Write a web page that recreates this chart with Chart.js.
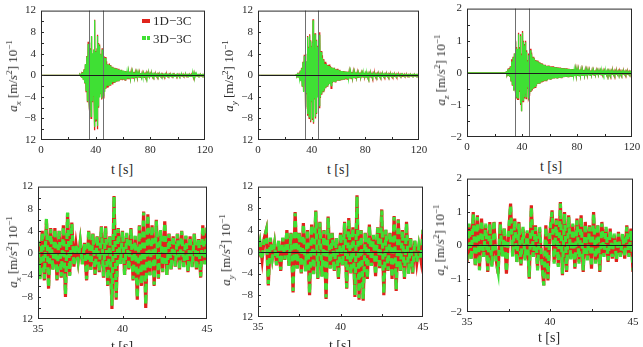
<!DOCTYPE html>
<html>
<head>
<meta charset="utf-8">
<script src="https://cdn.jsdelivr.net/npm/chart.js@4.4.1/dist/chart.umd.min.js"></script>
<style>
  html, body { margin: 0; padding: 0; background: #fff; }
  #fig { position: relative; width: 643px; height: 347px; overflow: hidden;
         font-family: "Liberation Serif", "DejaVu Serif", serif; color: #2a2a2a; }
  #fig canvas { position: absolute; }
  .ylab { position: absolute; white-space: nowrap; font-size: 13px;
          transform: translate(-50%, -50%) rotate(-90deg); }
  .xlab { position: absolute; white-space: nowrap; font-size: 14px;
          transform: translate(-50%, -50%); }
  .leg { position: absolute; white-space: nowrap; font-size: 13px; transform: translateY(-50%); }
  .sw { position: absolute; }
  sub, sup { font-size: 9px; line-height: 0; }
</style>
</head>
<body>
<div id="fig"></div>
<script>
// sampling grids (seconds)
const tQuiet = [0, 27.5];
const quiet = [0, 0];
const preStart = 28, preStep = 0.5;
const zoomStart = 35, zoomStep = 0.125;
const postStart = 45.5, postStep = 0.5;

// tick values and their printed labels
const xTicksFull = [0, 40, 80, 120];
const xTicksZoom = [35, 40, 45];
const yTicksXY = [-12, -8, -4, 0, 4, 8, 12];
const yLabelsXY = ["12", "−8", "−4", "0", "4", "8", "12"];
const yTicksZ = [-2, -1, 0, 1, 2];
const yLabelsZ = ["−2", "−1", "0", "1", "2"];
const xMarksFull = [20, 40, 60, 80, 100];
const xMarksZoom = [37.5, 40, 42.5];
const yMarksXY = [-10, -8, -6, -4, -2, 0, 2, 4, 6, 8, 10];
const yMarksZ = [-1.5, -1, -0.5, 0, 0.5, 1, 1.5];
const windowLines = [35, 45];

// ---- a_x ----
const ax1D_pre = [0, 0.1, -0.1, 0.3, -0.4, 0.6, -0.8, 1.1, -1.5, 2.0, -3.0, 3.6, -5.0, 6.2];
const ax3D_pre = [0, 0.1, -0.1, 0.2, -0.4, 0.5, -0.8, 1.0, -1.4, 2.1, -2.8, 3.5, -4.8, 5.8];
const ax1D_zoom = [2,-4.5,4,-5,6,-6.5,4.5,-3,4.5,-5, 4,-4.5,5,-8,7.2,-4,5.5,-2.5,1.5,-1.5,
  2,-2,1.8,-5,4,-3,3.5,-4,3,-3.5, 4.8,-4.5,4.8,-6,3,-10.2,10.3,-8.5,4.5,-2,
  4,-4,3.5,-3,4.5,-5,3,-8.5,5,-6, 7.5,-10,7,-4,5,-6,6,-4.7,4,-3.5,
  5.7,-4,3.5,-3,3,-2.5,3.5,-3,4,-2.5, 3,-3.5,3,-2.5,3.5,-3,2.5,-4.5,5,-2, 4.5];
const ax3D_zoom = [2.2,-4.8,3.8,-4.7,6.2,-6.3,4.3,-3.2,4.4,-4.8, 4.2,-4.3,4.8,-7.6,7.3,-4.2,5.3,-2.4,1.6,-1.4,
  1.9,-2.1,1.7,-4.8,4.1,-3.1,3.4,-3.8,3.1,-3.4, 4.7,-4.3,4.6,-5.8,3.1,-9.6,10.2,-8.1,4.3,-2.1,
  3.9,-4.1,3.6,-3.1,4.4,-4.8,3.1,-8.2,4.8,-5.8, 7.3,-9.4,6.9,-4.1,4.9,-5.8,5.8,-4.5,4.1,-3.4,
  5.5,-4.1,3.4,-3.1,3.1,-2.4,3.4,-3.1,3.9,-2.6, 3.1,-3.4,2.9,-2.6,3.4,-3.1,2.6,-4.3,4.8,-2.1, 4.6];
const ax1D_post = [-4.2,3.6,-3.0,3.4,-2.5,2.6,-2.2,2.0,-2.1,2.2, -1.8,1.9,-1.5,1.6,-1.7,1.4,-1.3,1.4,-1.2,1.3,
  -1.2,1.1,-1.0,1.2,-0.9,0.9,-0.8,1.0,-0.9,0.8, -0.8,0.7,-0.9,0.8,-0.6,0.7,-0.7,0.6,-0.6,0.7,
  -0.5,0.6,-0.6,0.5,-0.5,0.6,-0.4,0.5,-0.5,0.4, -0.5,0.4,-0.4,0.5,-0.4,0.4,-0.3,0.4,-0.4,0.3,
  -0.4,0.5,-0.3,0.4,-0.3,0.3,-0.3,0.3,-0.2,0.3, -0.2,0.2,-0.3,0.2,-0.2,0.2,-0.2,0.2,-0.2,0.2,
  -0.2,0.2,-0.2,0.1,-0.2,0.2,-0.1,0.2,-0.2,0.1, -0.2,0.2,-0.1,0.2,-0.2,0.1,-0.1,0.2,-0.1,0.1,
  -0.2,0.1,-0.1,0.2,-0.1,0.1,-0.1,0.1,-0.2,0.1, -0.1,0.2,-0.1,0.1,-0.1,0.1,-0.1,0.2,-0.1,0.1,
  -0.1,0.1,-0.2,0.1,-0.1,0.1,-0.1,0.1,-0.1,0.2, -0.2,0.3,-0.4,0.4,-0.3,0.2,-0.1,0.1,-0.1,0.1,
  -0.1,0.1,-0.1,0.1,-0.1,0.1,-0.1,0.1,-0.1,0.0];
const ax3D_post = [-3.8,3.4,-3.1,3.2,-2.4,2.0,-1.8,2.1,-2.0,1.9, -1.7,1.8,-1.6,1.5,-1.3,1.4,-1.2,1.3,-1.3,1.2,
  -1.1,1.2,-1.0,1.0,-0.9,1.0,-0.7,0.9,-0.8,0.9, -0.7,0.8,-0.8,0.7,-0.7,0.6,-0.6,0.7,-0.5,0.6,
  -0.6,0.5,-0.5,0.6,-0.4,0.5,-0.5,0.4,-0.4,0.5, -0.4,0.5,-0.4,0.4,-0.3,0.4,-0.4,0.3,-0.3,0.4,
  -0.3,0.4,-0.3,0.3,-0.3,0.3,-0.2,0.3,-0.3,0.2, -0.2,0.3,-0.2,0.2,-0.2,0.2,-0.2,0.2,-0.1,0.2,
  -0.2,0.1,-0.2,0.2,-0.1,0.2,-0.2,0.1,-0.1,0.2, -0.1,0.2,-0.2,0.1,-0.1,0.2,-0.1,0.1,-0.2,0.1,
  -0.1,0.2,-0.1,0.1,-0.2,0.1,-0.1,0.1,-0.1,0.2, -0.1,0.1,-0.2,0.1,-0.1,0.2,-0.1,0.1,-0.1,0.1,
  -0.1,0.2,-0.1,0.1,-0.1,0.1,-0.2,0.1,-0.1,0.1, -0.2,0.3,-0.3,0.4,-0.3,0.3,-0.1,0.2,-0.1,0.1,
  -0.1,0.1,-0.1,0.1,-0.1,0.1,-0.1,0.1,-0.1,0.0];

// ---- a_y ----
const ay1D_pre = [0, 0.1, -0.1, 0.2, -0.3, 0.5, -0.6, 0.9, -1.0, 1.4, -2.0, 2.5, -3.0, 3.8];
const ay3D_pre = [0, 0.1, -0.1, 0.2, -0.3, 0.4, -0.6, 0.8, -1.1, 1.3, -1.9, 2.4, -3.1, 3.6];
const ay1D_zoom = [-1,1.5,-1.5,2.5,4,-6.2,2.5,-1,1.5,-2.5, 2,-3.5,2.5,-1.5,4,-2.5,3.5,-7.5,7.3,-3,
  3.5,-4,5.3,-3.5,4,-8,5,-4,7.6,-5, 5.5,-4.5,4,-8.7,6.5,-3,3.5,-3.5,2.5,-5,
  3.5,-2.5,5.5,-6.8,6.2,-4,4.5,-8.3,10.4,-8.8, 4,-9,3.5,-5,5,-2.5,3,-4.5,4.5,-3,
  7.8,-8,4,-3.5,3.5,-5,6.6,-7.2,6,-3.5, 4,-5,5.5,-4,2.5,-4,2,-2,1,-1.5, 4];
const ay3D_zoom = [-0.8,1.6,-1.4,2.4,3.9,-5.9,2.6,-1.1,1.4,-2.4, 2.1,-3.3,2.6,-1.4,3.9,-2.6,3.4,-7.2,7.1,-3.1,
  3.6,-3.8,5.1,-3.6,4.1,-7.7,4.9,-4.1,7.4,-4.8, 5.4,-4.6,3.9,-8.4,6.3,-3.1,3.4,-3.6,2.6,-4.8,
  3.4,-2.6,5.3,-6.6,6,-4.1,4.4,-8,10.2,-8.5, 3.9,-8.7,3.6,-4.9,4.8,-2.6,3.1,-4.3,4.4,-3.1,
  7.6,-7.7,4.1,-3.4,3.6,-4.8,6.4,-7,5.8,-3.6, 3.9,-4.8,5.3,-4.1,2.6,-3.8,2.1,-1.9,1.1,-1.4, 4.1];
const ay1D_post = [-6.0,8.0,-4.2,4.5,-3.6,3.7,-3.0,3.0,-2.8,2.5, -2.4,2.2,-2.0,1.9,-1.8,2.0,-1.6,1.7,-2.4,1.5,
  -1.4,1.3,-1.2,1.4,-1.2,1.1,-1.0,1.2,-1.0,1.0, -0.9,1.0,-0.9,0.8,-0.9,0.8,-0.7,0.8,-0.8,0.7,
  -0.7,0.6,-0.7,0.7,-0.6,0.6,-0.6,0.5,-0.6,0.6, -0.5,0.6,-0.5,0.5,-0.5,0.5,-0.4,0.5,-0.5,0.4,
  -0.4,0.5,-0.4,0.4,-0.4,0.4,-0.3,0.4,-0.4,0.3, -0.3,0.4,-0.3,0.3,-0.3,0.3,-0.3,0.3,-0.2,0.3,
  -0.3,0.3,-0.2,0.3,-0.3,0.2,-0.2,0.3,-0.2,0.2, -0.2,0.3,-0.2,0.2,-0.2,0.2,-0.2,0.2,-0.2,0.2,
  -0.2,0.2,-0.2,0.2,-0.2,0.2,-0.1,0.2,-0.2,0.2, -0.2,0.1,-0.2,0.2,-0.1,0.2,-0.2,0.1,-0.1,0.2,
  -0.1,0.2,-0.1,0.1,-0.2,0.1,-0.1,0.2,-0.1,0.1, -0.1,0.1,-0.2,0.1,-0.1,0.1,-0.1,0.1,-0.1,0.1,
  -0.1,0.1,-0.1,0.1,-0.1,0.1,-0.1,0.1,-0.1,0.0];
const ay3D_post = [-5.6,7.5,-4.0,4.3,-3.4,3.2,-2.9,2.8,-2.6,2.1, -2.3,2.1,-1.9,1.8,-1.7,1.7,-1.6,1.6,-1.9,1.4,
  -1.3,1.4,-1.2,1.2,-1.1,1.1,-1.0,1.0,-0.9,1.0, -0.9,0.9,-0.8,0.8,-0.8,0.8,-0.7,0.7,-0.7,0.7,
  -0.6,0.7,-0.6,0.6,-0.6,0.6,-0.5,0.6,-0.5,0.5, -0.5,0.5,-0.5,0.5,-0.4,0.5,-0.4,0.4,-0.4,0.4,
  -0.4,0.4,-0.4,0.4,-0.3,0.4,-0.3,0.3,-0.3,0.3, -0.3,0.3,-0.3,0.3,-0.3,0.3,-0.2,0.3,-0.2,0.2,
  -0.2,0.3,-0.2,0.2,-0.2,0.2,-0.2,0.2,-0.2,0.2, -0.2,0.2,-0.2,0.2,-0.2,0.2,-0.2,0.2,-0.1,0.2,
  -0.2,0.2,-0.1,0.2,-0.2,0.1,-0.2,0.2,-0.1,0.2, -0.1,0.2,-0.1,0.1,-0.2,0.1,-0.1,0.2,-0.1,0.1,
  -0.1,0.1,-0.1,0.2,-0.1,0.1,-0.1,0.1,-0.1,0.1, -0.1,0.1,-0.1,0.1,-0.1,0.1,-0.1,0.1,-0.1,0.1,
  -0.1,0.1,-0.1,0.1,-0.1,0.1,-0.1,0.1,-0.1,0.0];

// ---- a_z ----
const az1D_pre = [0, 0.02, -0.03, 0.05, -0.08, 0.15, -0.12, 0.2, -0.25, 0.42, -0.4, 0.5, -0.55, 0.6];
const az3D_pre = [0, 0.02, -0.03, 0.05, -0.07, 0.12, -0.12, 0.18, -0.24, 0.35, -0.38, 0.48, -0.55, 0.6];
const az1D_zoom = [-0.5,0.6,-0.4,1.0,-0.6,0.9,-0.7,0.8,-0.3,0.6, -0.8,0.7,-0.6,0.7,-0.4,-0.85,0.7,-0.3,0.5,-0.85,
  0.3,1.25,-0.3,0.8,-0.5,0.7,-0.6,0.5,-0.4,0.4, -1.0,1.2,-0.3,0.6,-0.7,0.5,-0.5,-1.2,0.6,-1.05,
  0.4,1.05,-0.5,0.8,-0.6,1.3,-0.9,1.0,-0.8,0.9, -0.4,0.6,-0.7,0.8,-0.5,0.9,-0.8,0.7,-0.4,0.6,
  -0.7,1.0,-0.5,0.6,-0.8,0.7,-0.3,0.5,-0.5,0.5, -0.4,0.3,-0.5,0.4,-0.3,0.3,-0.4,0.6,-0.3,0.5, -0.8];
const az3D_zoom = [-0.45,0.65,-0.45,0.95,-0.65,0.85,-0.75,0.75,-0.35,0.65, -0.75,0.65,-0.65,0.75,-0.45,-0.8,0.65,-0.35,0.55,-0.8,
  0.35,1.2,-0.35,0.75,-0.55,0.65,-0.55,0.55,-0.45,0.45, -0.95,1.15,-0.35,0.55,-0.75,0.55,-0.45,-1.2,0.55,-1.0,
  0.45,1.0,-0.55,0.75,-0.65,1.25,-0.85,0.95,-0.75,0.85, -0.45,0.65,-0.65,0.75,-0.55,0.85,-0.75,0.65,-0.45,0.55,
  -0.65,0.95,-0.55,0.65,-0.75,0.65,-0.35,0.55,-0.45,0.45, -0.35,0.35,-0.45,0.35,-0.35,0.35,-0.35,0.55,-0.35,0.45, -0.75];
const az1D_post = [-0.7,0.75,-0.6,0.63,-0.55,0.5,-0.5,0.45,-0.45,0.4, -0.4,0.38,-0.35,0.35,-0.32,0.33,-0.3,0.3,-0.3,0.28,
  -0.28,0.25,-0.26,0.25,-0.24,0.22,-0.22,0.23,-0.2,0.22, -0.2,0.2,-0.2,0.2,-0.18,0.2,-0.18,0.18,-0.17,0.18,
  -0.16,0.17,-0.16,0.16,-0.15,0.16,-0.15,0.15,-0.14,0.15, -0.14,0.14,-0.13,0.14,-0.13,0.13,-0.12,0.13,-0.12,0.12,
  -0.12,0.12,-0.11,0.12,-0.11,0.11,-0.1,0.11,-0.1,0.1, -0.1,0.1,-0.09,0.1,-0.09,0.09,-0.09,0.09,-0.08,0.09,
  -0.08,0.08,-0.08,0.08,-0.08,0.08,-0.07,0.08,-0.07,0.07, -0.07,0.07,-0.07,0.07,-0.07,0.07,-0.06,0.07,-0.06,0.06,
  -0.06,0.06,-0.06,0.06,-0.06,0.06,-0.06,0.06,-0.05,0.06, -0.05,0.06,-0.05,0.05,-0.05,0.05,-0.05,0.05,-0.05,0.05,
  -0.05,0.05,-0.05,0.05,-0.05,0.05,-0.04,0.05,-0.04,0.05, -0.04,0.07,-0.04,0.05,-0.04,0.04,-0.04,0.04,-0.04,0.04,
  -0.04,0.04,-0.04,0.04,-0.03,0.04,-0.03,0.03,-0.03,0.02];
const az3D_post = [-0.65,0.7,-0.58,0.58,-0.52,0.48,-0.48,0.43,-0.42,0.38, -0.38,0.36,-0.34,0.33,-0.31,0.31,-0.29,0.28,-0.28,0.26,
  -0.26,0.24,-0.25,0.23,-0.23,0.21,-0.21,0.21,-0.2,0.2, -0.19,0.19,-0.19,0.18,-0.18,0.18,-0.17,0.17,-0.16,0.17,
  -0.16,0.16,-0.15,0.15,-0.15,0.15,-0.14,0.14,-0.14,0.14, -0.13,0.13,-0.13,0.13,-0.12,0.12,-0.12,0.12,-0.11,0.12,
  -0.11,0.11,-0.11,0.11,-0.1,0.1,-0.1,0.1,-0.1,0.1, -0.09,0.09,-0.09,0.09,-0.09,0.09,-0.08,0.08,-0.08,0.08,
  -0.08,0.08,-0.08,0.08,-0.07,0.07,-0.07,0.07,-0.07,0.07, -0.07,0.07,-0.06,0.07,-0.06,0.06,-0.06,0.06,-0.06,0.06,
  -0.06,0.06,-0.06,0.06,-0.05,0.05,-0.05,0.05,-0.05,0.05, -0.05,0.05,-0.05,0.05,-0.05,0.05,-0.05,0.05,-0.04,0.05,
  -0.04,0.05,-0.04,0.04,-0.04,0.04,-0.04,0.04,-0.04,0.04, -0.04,0.04,-0.04,0.04,-0.04,0.04,-0.03,0.04,-0.03,0.04,
  -0.03,0.03,-0.03,0.03,-0.03,0.03,-0.03,0.03,-0.02,0.02];

const RED = "#e0231c";
const GREEN = "#3fe034";
const FONT = "'Liberation Serif', 'DejaVu Serif', serif";

function buildTop(pre, zoom, post) {
  const pts = [];
  tQuiet.forEach((t, i) => pts.push({ x: t, y: quiet[i] }));
  pre.forEach((v, i) => pts.push({ x: preStart + i * preStep, y: v }));
  zoom.forEach((v, i) => pts.push({ x: zoomStart + i * zoomStep, y: v }));
  post.forEach((v, i) => pts.push({ x: postStart + i * postStep, y: v }));
  return pts;
}
function buildZoom(zoom) {
  return zoom.map((v, i) => ({ x: zoomStart + i * zoomStep, y: v }));
}

// frame, inward ticks, zero line and the window markers
const decor = {
  id: "decor",
  afterDatasetsDraw(chart, args, o) {
    const { ctx, chartArea: a } = chart;
    const sx = chart.scales.x, sy = chart.scales.y;
    const seg = (x1, y1, x2, y2) => { ctx.beginPath(); ctx.moveTo(x1, y1); ctx.lineTo(x2, y2); ctx.stroke(); };
    ctx.save();
    ctx.lineWidth = 1;
    ctx.strokeStyle = "#707070";
    (o.marks || []).forEach(t => {
      const px = Math.round(sx.getPixelForValue(t)) + 0.5;
      seg(px, a.top, px, a.bottom);
    });
    ctx.strokeStyle = "#1c1c1c";
    const p0 = Math.round(sy.getPixelForValue(0)) + 0.5;
    seg(a.left, p0, a.right, p0);
    ctx.strokeStyle = "#2a2a2a";
    ctx.strokeRect(a.left + 0.5, a.top + 0.5, a.width - 1, a.height - 1);
    o.xMarks.forEach(v => {
      const px = Math.round(sx.getPixelForValue(v)) + 0.5;
      seg(px, a.bottom, px, a.bottom - 3);
    });
    o.yMarks.forEach(v => {
      const py = Math.round(sy.getPixelForValue(v)) + 0.5;
      seg(a.left, py, a.left + 3, py);
    });
    ctx.restore();
  }
};

const fig = document.getElementById("fig");

function addText(cls, html, x, y) {
  const d = document.createElement("div");
  d.className = cls;
  d.innerHTML = html;
  d.style.left = x + "px";
  d.style.top = y + "px";
  fig.appendChild(d);
}

function makeChart(p) {
  const [l, t, r, b] = p.box;
  const padL = 30, padT = 10, padR = 14, padB = 22;
  const w = r - l + padL + padR, h = b - t + padT + padB;
  const cv = document.createElement("canvas");
  cv.width = w; cv.height = h;
  cv.style.left = (l - padL) + "px";
  cv.style.top = (t - padT) + "px";
  cv.style.width = w + "px";
  cv.style.height = h + "px";
  fig.appendChild(cv);

  const tickFont = { family: FONT, size: 11 };
  new Chart(cv, {
    type: "line",
    data: {
      datasets: [
        { label: "3D−3C", data: p.green, borderColor: GREEN, borderWidth: p.lw, borderDash: p.dash, order: 0 },
        { label: "1D−3C", data: p.red, borderColor: RED, borderWidth: p.lw, order: 1 }
      ]
    },
    options: {
      responsive: false,
      animation: false,
      events: [],
      parsing: false,
      normalized: true,
      elements: { point: { radius: 0 }, line: { tension: 0, fill: false } },
      layout: { padding: { left: 0, top: padT, right: padR, bottom: 0 } },
      plugins: {
        legend: { display: false },
        tooltip: { enabled: false },
        decor: { marks: p.marks, xMarks: p.xMarks, yMarks: p.yMarks }
      },
      scales: {
        x: {
          type: "linear", min: p.xr[0], max: p.xr[1],
          afterFit: s => { s.height = padB; },
          afterBuildTicks: s => { s.ticks = p.xt.map(v => ({ value: v })); },
          grid: { display: false, drawTicks: false },
          border: { display: false },
          ticks: { padding: 4, font: tickFont, color: "#2a2a2a", maxRotation: 0, autoSkip: false }
        },
        y: {
          type: "linear", min: p.yr[0], max: p.yr[1],
          afterFit: s => { s.width = padL; },
          afterBuildTicks: s => { s.ticks = p.yt.map(v => ({ value: v })); },
          grid: { display: false, drawTicks: false },
          border: { display: false },
          ticks: {
            padding: 5, font: tickFont, color: "#2a2a2a", autoSkip: false,
            callback: v => p.yl[p.yt.indexOf(v)]
          }
        }
      }
    },
    plugins: [decor]
  });

  addText("ylab", p.ytitle, p.ylabAt[0], p.ylabAt[1]);
  addText("xlab", "t [s]", p.xlabAt[0], p.xlabAt[1]);
}

const yTitle = c => `<i>a</i><sub><i>${c}</i></sub> [m/<i>s</i><sup>2</sup>] 10<sup>−1</sup>`;

const panels = [
  { box: [41, 9, 205, 140], xr: [0, 120], xt: xTicksFull, xMarks: xMarksFull, yr: [-12, 12], yt: yTicksXY, yl: yLabelsXY, yMarks: yMarksXY,
    red: buildTop(ax1D_pre, ax1D_zoom, ax1D_post), green: buildTop(ax3D_pre, ax3D_zoom, ax3D_post), lw: 1.3, dash: [],
    marks: windowLines, ytitle: yTitle("x"), ylabAt: [13, 76], xlabAt: [122, 170] },
  { box: [258, 9, 419, 140], xr: [0, 120], xt: xTicksFull, xMarks: xMarksFull, yr: [-12, 12], yt: yTicksXY, yl: yLabelsXY, yMarks: yMarksXY,
    red: buildTop(ay1D_pre, ay1D_zoom, ay1D_post), green: buildTop(ay3D_pre, ay3D_zoom, ay3D_post), lw: 1.3, dash: [],
    marks: windowLines, ytitle: yTitle("y"), ylabAt: [229, 76], xlabAt: [338, 170] },
  { box: [467, 7, 632, 137], xr: [0, 120], xt: xTicksFull, xMarks: xMarksFull, yr: [-2, 2], yt: yTicksZ, yl: yLabelsZ, yMarks: yMarksZ,
    red: buildTop(az1D_pre, az1D_zoom, az1D_post), green: buildTop(az3D_pre, az3D_zoom, az3D_post), lw: 1.3, dash: [],
    marks: windowLines, ytitle: yTitle("z"), ylabAt: [441, 70], xlabAt: [551, 167] },
  { box: [38, 185, 207, 319], xr: [35, 45], xt: xTicksZoom, xMarks: xMarksZoom, yr: [-12, 12], yt: yTicksXY, yl: yLabelsXY, yMarks: yMarksXY,
    red: buildZoom(ax1D_zoom), green: buildZoom(ax3D_zoom), lw: 3.2, dash: [6, 5],
    marks: [], ytitle: yTitle("x"), ylabAt: [13, 252], xlabAt: [122, 347] },
  { box: [258, 185, 423, 317], xr: [35, 45], xt: xTicksZoom, xMarks: xMarksZoom, yr: [-12, 12], yt: yTicksXY, yl: yLabelsXY, yMarks: yMarksXY,
    red: buildZoom(ay1D_zoom), green: buildZoom(ay3D_zoom), lw: 3.2, dash: [6, 5],
    marks: [], ytitle: yTitle("y"), ylabAt: [226, 250], xlabAt: [340, 346] },
  { box: [467, 177, 633, 312], xr: [35, 45], xt: xTicksZoom, xMarks: xMarksZoom, yr: [-2, 2], yt: yTicksZ, yl: yLabelsZ, yMarks: yMarksZ,
    red: buildZoom(az1D_zoom), green: buildZoom(az3D_zoom), lw: 3.2, dash: [6, 5],
    marks: [], ytitle: yTitle("z"), ylabAt: [440, 240], xlabAt: [549, 338] }
];

panels.forEach(makeChart);

// legend of the first panel
function swatch(x, y, w, h, c) {
  const d = document.createElement("div");
  d.className = "sw";
  d.style.cssText = `left:${x}px;top:${y}px;width:${w}px;height:${h}px;background:${c}`;
  fig.appendChild(d);
}
swatch(142, 19, 8, 4, RED);
addText("leg", "1D−3C", 153, 21);
swatch(142, 36, 3.5, 4, GREEN);
swatch(146.5, 36, 3.5, 4, GREEN);
addText("leg", "3D−3C", 153, 38.5);
</script>
</body>
</html>
